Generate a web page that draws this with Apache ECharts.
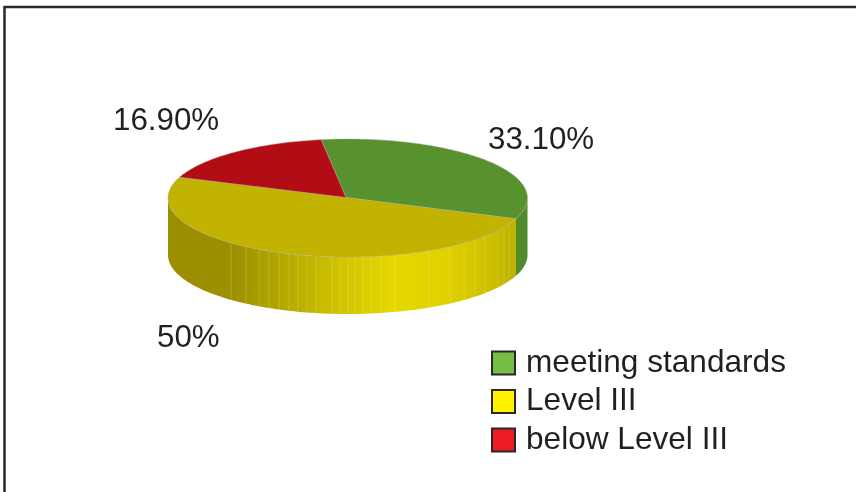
<!DOCTYPE html>
<html>
<head>
<meta charset="utf-8">
<style>html,body{margin:0;padding:0;background:#fff}#c{width:856px;height:492px}</style>
<script src="https://cdn.jsdelivr.net/npm/echarts@6/dist/echarts.min.js"></script>
</head>
<body>
<div id="c"></div>
<script>
// Data
const categories = ['meeting standards', 'Level III', 'below Level III'];
const values = [33.1, 50, 16.9];
const valueLabels = ['33.10%', '50%', '16.90%'];

// Colours
const topColors = ['#58922f', '#c1b300', '#b20d14'];
const legendColors = ['#76bd45', '#fff200', '#ed1c24'];
const TEXT = '#231f20';

// Layout of the drawn ellipse
const CX = 347.75, CY = 198, RX = 179.75, RY = 59, DEPTH = 57, START = -8.5;
const HUB = [346, 197.5];
const labelPos = [[488, 140], [157, 338.5], [113, 121]];
const seamX = [231,246,259,269,279,289,298,307,316,332,340,348,355,363,371,381,395,429,450,464,475,485,498,504,509];

const total = values.reduce((a, b) => a + b, 0);
function rim(deg, dy) {
  const r = deg * Math.PI / 180;
  return [CX + RX * Math.sin(r), CY - RY * Math.cos(r) + (dy || 0)];
}
function arc(a0, a1, dy) {
  const pts = [], n = Math.max(2, Math.ceil(Math.abs(a1 - a0)));
  for (let i = 0; i <= n; i++) pts.push(rim(a0 + (a1 - a0) * i / n, dy));
  return pts;
}
const yellowWall = new echarts.graphic.LinearGradient(168, 0, 515, 0, [
  { offset: 0, color: '#9b8e00' }, { offset: 0.18, color: '#9c8f00' },
  { offset: 0.49, color: '#cfc200' }, { offset: 0.65, color: '#e6d800' },
  { offset: 0.81, color: '#dfd000' }, { offset: 0.93, color: '#cdbf00' },
  { offset: 1, color: '#bdb000' }
], true);
const wallFills = ['#4f8a2c', yellowWall, '#8a0a10'];

function makeRender(idx) {
  return function (params, api) {
    const v = api.value(0);
    const before = values.slice(0, idx).reduce((a, b) => a + b, 0);
    const a0 = START + before / total * 360;
    const a1 = a0 + v / total * 360;
    const children = [];
    // wall: the visible front part of the rim (90..270 degrees)
    const w0 = Math.max(a0, 90), w1 = Math.min(a1, 270);
    if (w1 > w0) {
      const pts = arc(w0, w1, 0).concat(arc(w1, w0, DEPTH));
      children.push({ type: 'polygon', shape: { points: pts }, style: { fill: wallFills[idx] } });
      if (idx === 1) {
        seamX.forEach(function (x) {
          const t = (x - CX) / RX;
          const y = CY + RY * Math.sqrt(1 - t * t);
          children.push({ type: 'line', shape: { x1: x, y1: y, x2: x, y2: y + DEPTH },
            style: { stroke: 'rgba(255,255,190,0.2)', lineWidth: 1 } });
        });
      }
    }
    // top face
    const top = [HUB].concat(arc(a0, a1, 0));
    children.push({ type: 'polygon', shape: { points: top },
      style: { fill: topColors[idx], stroke: 'rgba(170,170,150,0.6)', lineWidth: 0.8 } });
    // value label
    children.push({ type: 'text', style: { text: valueLabels[idx], x: labelPos[idx][0], y: labelPos[idx][1],
      fill: TEXT, font: '31.3px "Liberation Sans", Arial, sans-serif', verticalAlign: 'middle' } });
    return { type: 'group', children: children };
  };
}

const chart = echarts.init(document.getElementById('c'), null, { renderer: 'canvas' });
chart.setOption({
  animation: false,
  backgroundColor: '#ffffff',
  legend: {
    orient: 'vertical',
    left: 491, top: 347,
    padding: 0,
    itemWidth: 23, itemHeight: 23, itemGap: 6.5,
    icon: 'rect',
    selectedMode: false,
    textStyle: { fontFamily: '"Liberation Sans", Arial, sans-serif', fontSize: 31.6, color: TEXT, padding: [0,0,0,6] },
    data: categories.map((name, i) => ({
      name, icon: 'rect',
      itemStyle: { color: legendColors[i], borderColor: '#2b2829', borderWidth: 2 }
    }))
  },
  graphic: [{
    type: 'polyline', silent: true,
    shape: { points: [[4.5, 492], [4.5, 7], [856, 7]] },
    style: { stroke: '#2b2829', lineWidth: 2.5, fill: null }
  }],
  series: categories.map((name, i) => ({
    type: 'custom', name, coordinateSystem: 'none',
    itemStyle: { color: legendColors[i] },
    renderItem: makeRender(i),
    data: [[values[i]]]
  }))
});
</script>
</body>
</html>
